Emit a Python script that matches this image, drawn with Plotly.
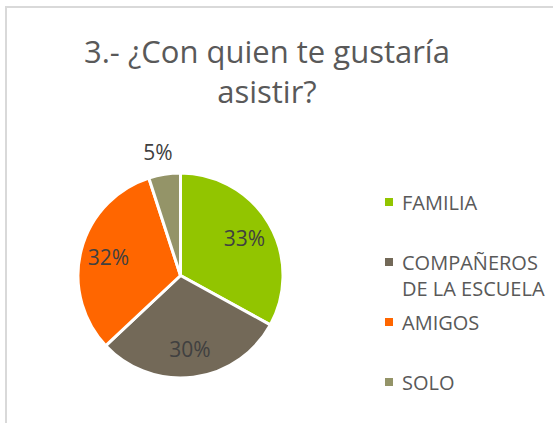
import plotly.graph_objects as go

labels = ["FAMILIA", "COMPAÑEROS DE LA ESCUELA", "AMIGOS", "SOLO"]
legend_labels = ["FAMILIA", "COMPAÑEROS<br>DE LA ESCUELA", "AMIGOS", "SOLO"]
values = [33, 30, 32, 5]
colors = ["#92c500", "#736958", "#ff6600", "#949468"]
inside_tpl = ["%{percent:.0%}", "%{percent:.0%}", "%{percent:.0%}", ""]
outside_tpl = ["", "", "", "%{percent:.0%}"]
title_text = "3.- ¿Con quien te gustaría<br>asistir?"

W, H = 553, 423
FONT = "Open Sans"
pie_domain = dict(x=[78 / W, 283 / W], y=[45 / H, 250 / H])
label_domain = dict(x=[71 / W, 290 / W], y=[38 / H, 257 / H])
clear = ["rgba(0,0,0,0)"] * len(values)

fig = go.Figure()
# coloured slices
fig.add_trace(go.Pie(
    labels=labels, values=values, sort=False, direction="clockwise", rotation=0,
    marker=dict(colors=colors, line=dict(color="white", width=3)),
    textinfo="none", domain=pie_domain, showlegend=False,
    hoverinfo="label+percent",
))
# transparent ring carrying the inside percentage labels (~3/4 radius)
fig.add_trace(go.Pie(
    labels=labels, values=values, sort=False, direction="clockwise", rotation=0,
    hole=0.45, marker=dict(colors=clear, line=dict(width=0)),
    texttemplate=inside_tpl, textposition="inside", insidetextorientation="horizontal",
    textfont=dict(family=FONT, size=21, color="#404040"),
    domain=pie_domain, showlegend=False, hoverinfo="skip",
))
# transparent layer carrying the small-slice label outside, above the pie
fig.add_trace(go.Pie(
    labels=labels, values=values, sort=False, direction="clockwise", rotation=8.5,
    marker=dict(colors=clear, line=dict(width=0)),
    texttemplate=outside_tpl, textposition="outside",
    outsidetextfont=dict(family=FONT, size=21, color="#404040"),
    domain=label_domain, showlegend=False, hoverinfo="skip",
))

shapes = [dict(type="rect", xref="paper", yref="paper",
               x0=6 / W, x1=1.05, y0=-0.05, y1=1 - 7 / H,
               line=dict(color="#d9d9d9", width=2), fillcolor="rgba(0,0,0,0)")]
annotations = []
slot_y = [202, 262, 322, 382]
for lab, col, yy in zip(legend_labels, colors, slot_y):
    shapes.append(dict(type="rect", xref="paper", yref="paper",
                       x0=385 / W, x1=393 / W,
                       y0=1 - (yy + 4) / H, y1=1 - (yy - 4) / H,
                       line=dict(width=0), fillcolor=col))
    annotations.append(dict(text=lab, xref="paper", yref="paper",
                            x=400 / W, y=1 - (yy - 15) / H,
                            xanchor="left", yanchor="top", align="left",
                            showarrow=False,
                            font=dict(family=FONT, size=20, color="#595959")))

annotations.append(dict(text=title_text, xref="paper", yref="paper",
                        x=267 / W, y=1 - 71 / H, xanchor="center", yanchor="middle",
                        showarrow=False, align="center",
                        font=dict(family=FONT, size=31, color="#595959")))

fig.update_layout(
    width=W, height=H,
    margin=dict(l=0, r=0, t=0, b=0),
    paper_bgcolor="white", plot_bgcolor="white",
    shapes=shapes, annotations=annotations,
)

fig.write_html("out.html", config={"displayModeBar": False},
               post_script="document.body.style.margin='0';")
